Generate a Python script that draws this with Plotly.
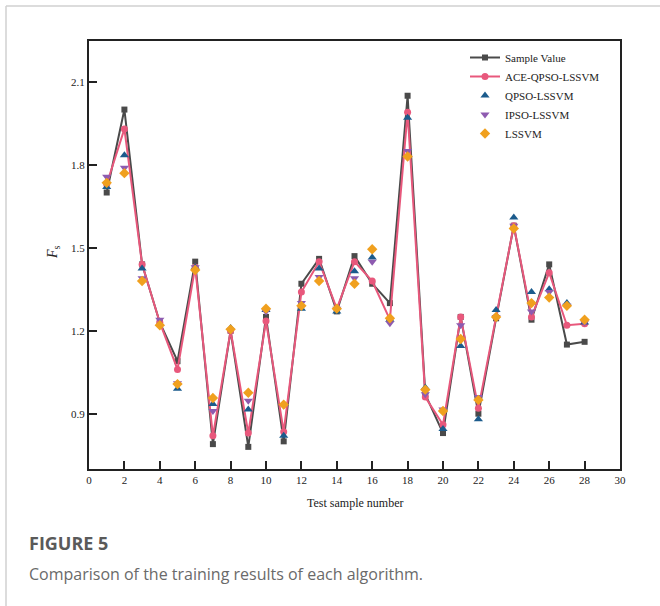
import plotly.graph_objects as go

x_vals = list(range(1, 29))
sample = [1.70, 2.00, 1.44, 1.23, 1.09, 1.45, 0.79, 1.20, 0.78, 1.25, 0.80, 1.37, 1.46, 1.27,
          1.47, 1.37, 1.30, 2.05, 0.97, 0.83, 1.25, 0.90, 1.245, 1.58, 1.24, 1.44, 1.15, 1.16]
ace = [1.73, 1.93, 1.44, 1.23, 1.06, 1.43, 0.82, 1.20, 0.83, 1.235, 0.835, 1.34, 1.45, 1.28,
       1.45, 1.38, 1.24, 1.99, 0.96, 0.86, 1.25, 0.92, 1.25, 1.58, 1.25, 1.41, 1.22, 1.225]
qpso = [1.72, 1.835, 1.425, 1.225, 0.99, 1.43, 0.935, 1.21, 0.915, 1.275, 0.82, 1.28, 1.425, 1.27,
        1.415, 1.465, 1.24, 1.97, 0.995, 0.845, 1.145, 0.88, 1.275, 1.61, 1.34, 1.35, 1.30, 1.23]
ipso = [1.757, 1.79, 1.39, 1.24, 1.01, 1.43, 0.91, 1.20, 0.947, 1.27, 0.93, 1.30, 1.394, 1.28,
        1.39, 1.45, 1.227, 1.85, 0.97, 0.915, 1.22, 0.96, 1.25, 1.58, 1.27, 1.34, 1.29, 1.23]
lssvm = [1.735, 1.77, 1.38, 1.22, 1.007, 1.42, 0.957, 1.205, 0.976, 1.28, 0.933, 1.29, 1.38, 1.28,
         1.37, 1.495, 1.245, 1.83, 0.987, 0.91, 1.17, 0.95, 1.25, 1.57, 1.30, 1.32, 1.29, 1.24]

x_ticks = list(range(0, 31, 2))
y_ticks = [0.9, 1.2, 1.5, 1.8, 2.1]

SERIF = "Liberation Serif, Times New Roman, serif"

fig = go.Figure()
fig.add_trace(go.Scatter(x=x_vals, y=sample, name="Sample Value", mode="lines+markers",
                         line=dict(color="#4a4a4a", width=2),
                         marker=dict(symbol="square", size=6, color="#4a4a4a")))
fig.add_trace(go.Scatter(x=x_vals, y=ace, name="ACE-QPSO-LSSVM", mode="lines+markers",
                         line=dict(color="#e8587c", width=2),
                         marker=dict(symbol="circle", size=7, color="#e8587c")))
fig.add_trace(go.Scatter(x=x_vals, y=qpso, name="QPSO-LSSVM", mode="markers",
                         marker=dict(symbol="triangle-up", size=8, color="#1b5b8c")))
fig.add_trace(go.Scatter(x=x_vals, y=ipso, name="IPSO-LSSVM", mode="markers",
                         marker=dict(symbol="triangle-down", size=8, color="#8e5bb0")))
fig.add_trace(go.Scatter(x=x_vals, y=lssvm, name="LSSVM", mode="markers",
                         marker=dict(symbol="diamond", size=8, color="#f0a01e")))

L, R, T, B = 89, 40, 41, 137
W, H = 660, 606
pw, ph = W - L - R, H - T - B

def px(xp):
    return (xp - L) / pw

def py(yp):
    return (H - B - yp) / ph

fig.update_layout(
    width=W, height=H,
    margin=dict(l=L, r=R, t=T, b=B),
    paper_bgcolor="white", plot_bgcolor="white",
    font=dict(family=SERIF, size=11, color="#222"),
    showlegend=True,
    legend=dict(x=px(465), y=py(43), xanchor="left", yanchor="top",
                bgcolor="rgba(0,0,0,0)", font=dict(family=SERIF, size=11, color="#222"),
                tracegroupgap=0, itemwidth=30),
    xaxis=dict(range=[0, 30], tickvals=x_ticks, ticks="inside", ticklen=8, tickwidth=1.5,
               tickcolor="#222", showline=True, linecolor="#222", linewidth=2, mirror=True,
               showgrid=False, zeroline=False, tickfont=dict(family=SERIF, size=11)),
    yaxis=dict(range=[0.70, 2.248], tickvals=y_ticks, ticktext=["0.9", "1.2", "1.5", "1.8", "2.1"],
               ticks="inside", ticklen=8, tickwidth=1.5,
               tickcolor="#222", showline=True, linecolor="#222", linewidth=2, mirror=True,
               showgrid=False, zeroline=False, tickfont=dict(family=SERIF, size=11)),
    shapes=[
        dict(type="line", xref="paper", yref="paper", x0=px(6), x1=px(6), y0=py(6), y1=py(700),
             line=dict(color="#d0d0d0", width=1.5)),
        dict(type="line", xref="paper", yref="paper", x0=px(6), x1=px(700), y0=py(6), y1=py(6),
             line=dict(color="#d0d0d0", width=1.5)),
    ],
    annotations=[
        dict(text="Test sample number", xref="paper", yref="paper", x=px(355), y=py(503),
             xanchor="center", yanchor="middle", showarrow=False,
             font=dict(family=SERIF, size=12, color="#222")),
        dict(text="<i>F</i><sub>s</sub>", xref="paper", yref="paper", x=px(53), y=py(252),
             xanchor="center", yanchor="middle", showarrow=False, textangle=-90,
             font=dict(family=SERIF, size=14, color="#222")),
        dict(text="<b>FIGURE 5</b>", xref="paper", yref="paper", x=px(27), y=py(543),
             xanchor="left", yanchor="middle", showarrow=False,
             font=dict(family="Open Sans, sans-serif", size=18, color="#5a5a5a")),
        dict(text="Comparison of the training results of each algorithm.", xref="paper", yref="paper",
             x=px(27), y=py(574), xanchor="left", yanchor="middle", showarrow=False,
             font=dict(family="Open Sans, sans-serif", size=16, color="#6a6a6a")),
    ],
)

fig.write_html("out.html")
